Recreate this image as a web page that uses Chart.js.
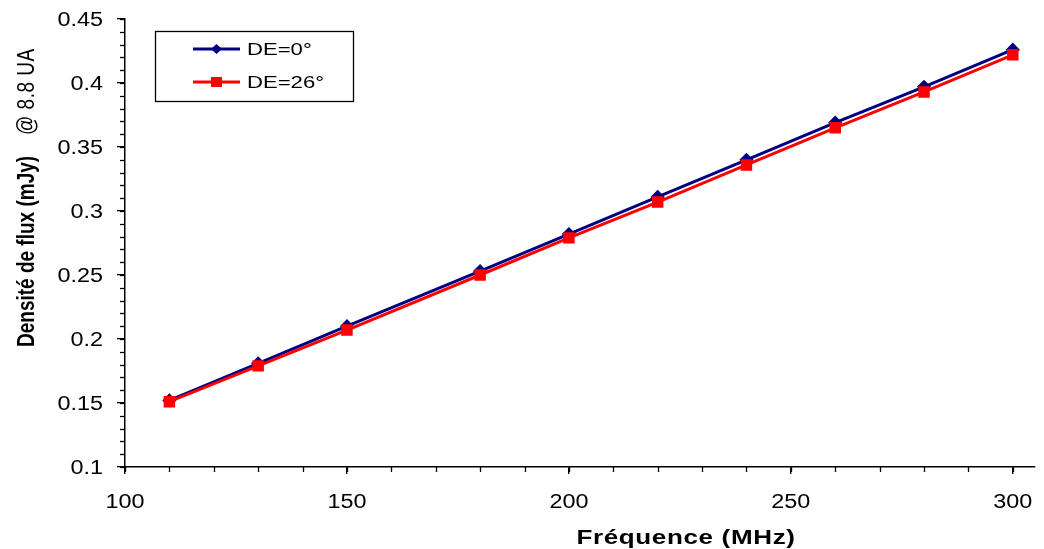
<!DOCTYPE html>
<html>
<head>
<meta charset="utf-8">
<script src="https://cdn.jsdelivr.net/npm/chart.js@4.4.1/dist/chart.umd.min.js"></script>
<style>
  html, body { margin: 0; padding: 0; background: #fff; }
  #wrap { width: 1044px; height: 549px; }
</style>
</head>
<body>
<div id="wrap"><canvas id="fluxChart" width="1044" height="549"></canvas></div>
<script>
// donnees
const frequences = [110, 130, 150, 180, 200, 220, 240, 260, 280, 300];
const fluxDE0 = [0.152, 0.181, 0.210, 0.253, 0.282, 0.311, 0.340, 0.369, 0.397, 0.426];
const fluxDE26 = [0.151, 0.179, 0.207, 0.250, 0.279, 0.307, 0.336, 0.365, 0.393, 0.422];
const labelsSeries = ["DE=0°", "DE=26°"];
const xGraduations = [100, 150, 200, 250, 300];
const yGraduations = [0.1, 0.15, 0.2, 0.25, 0.3, 0.35, 0.4, 0.45];

const xTitre = "Fréquence (MHz)";
const yTitre = "Densité de flux (mJy)";
const yTitreSuite = "@ 8.8 UA";

const police = "'Liberation Sans', Arial, sans-serif";
// le graphique d'origine est etire horizontalement
const etirement = 1.17;

// texte etire horizontalement
function texteEtire(ctx, txt, x, y, align, sx) {
    ctx.save();
    ctx.translate(x, y);
    ctx.scale(sx, 1);
    ctx.textAlign = align;
    ctx.fillText(txt, 0, 0);
    ctx.restore();
}

// petites graduations + libelles + titres + legende encadree
const decorPlugin = {
    id: "decor",
    afterDraw(chart) {
        const ctx = chart.ctx;
        const xs = chart.scales.x;
        const ys = chart.scales.y;
        const area = chart.chartArea;

        ctx.save();
        ctx.strokeStyle = "#000";
        ctx.lineWidth = 1.3;
        // graduations mineures
        for (let v = 0.1; v <= 0.4501; v += 0.01) {
            const y = Math.round(ys.getPixelForValue(v)) + 0.5;
            ctx.beginPath();
            ctx.moveTo(area.left - 5, y);
            ctx.lineTo(area.left, y);
            ctx.stroke();
        }
        for (let v = 100; v <= 300; v += 10) {
            const x = Math.round(xs.getPixelForValue(v)) + 0.5;
            ctx.beginPath();
            ctx.moveTo(x, area.bottom);
            ctx.lineTo(x, area.bottom + 5);
            ctx.stroke();
        }

        // libelles des graduations
        ctx.fillStyle = "#000";
        ctx.font = "20px " + police;
        ctx.textBaseline = "middle";
        yGraduations.forEach(v => {
            texteEtire(ctx, String(v), area.left - 22, ys.getPixelForValue(v) + 1, "right", etirement);
        });
        xGraduations.forEach(v => {
            texteEtire(ctx, String(v), xs.getPixelForValue(v), area.bottom + 35, "center", etirement);
        });

        // titre axe x
        ctx.font = "bold 20px " + police;
        ctx.letterSpacing = "0.5px";
        texteEtire(ctx, xTitre, 686, 538, "center", 1.3);
        ctx.letterSpacing = "0px";

        // titre axe y (vertical)
        ctx.translate(27, 0);
        ctx.rotate(-Math.PI / 2);
        ctx.scale(1, 1.3);
        ctx.textAlign = "left";
        ctx.font = "bold 19px " + police;
        ctx.fillText(yTitre, -347, 0, 194);
        ctx.font = "19px " + police;
        ctx.letterSpacing = "0.5px";
        ctx.fillText(yTitreSuite, -135, 0, 105);
        ctx.restore();

        // legende
        ctx.save();
        ctx.strokeStyle = "#000";
        ctx.lineWidth = 1.3;
        ctx.strokeRect(155.5, 31.5, 198, 70);
        const lignes = [49, 82];
        chart.data.datasets.forEach((ds, i) => {
            const y = lignes[i];
            ctx.strokeStyle = ds.borderColor;
            ctx.lineWidth = 3;
            ctx.beginPath();
            ctx.moveTo(193, y);
            ctx.lineTo(240, y);
            ctx.stroke();
            ctx.fillStyle = ds.backgroundColor;
            if (ds.pointStyle === "rectRot") {
                ctx.beginPath();
                ctx.moveTo(216.5, y - 5);
                ctx.lineTo(222, y);
                ctx.lineTo(216.5, y + 5);
                ctx.lineTo(211, y);
                ctx.closePath();
                ctx.fill();
            } else {
                ctx.fillRect(211, y - 5, 11, 10);
            }
            ctx.fillStyle = "#000";
            ctx.font = "17px " + police;
            ctx.textBaseline = "middle";
            texteEtire(ctx, ds.label, 247, y + 1, "left", 1.3);
        });
        ctx.restore();
    }
};

const ctx = document.getElementById("fluxChart").getContext("2d");
new Chart(ctx, {
    type: "line",
    data: {
        datasets: [
            {
                label: labelsSeries[0],
                data: frequences.map((f, i) => ({ x: f, y: fluxDE0[i] })),
                borderColor: "#000080",
                backgroundColor: "#000080",
                borderWidth: 3,
                pointStyle: "rectRot",
                pointRadius: 5,
                order: 1,
                tension: 0
            },
            {
                label: labelsSeries[1],
                data: frequences.map((f, i) => ({ x: f, y: fluxDE26[i] })),
                borderColor: "#ff0000",
                backgroundColor: "#ff0000",
                borderWidth: 3,
                pointStyle: "rect",
                pointRadius: 6,
                order: 0,
                tension: 0
            }
        ]
    },
    options: {
        responsive: false,
        animation: false,
        layout: { padding: { top: 19, right: 3, left: 0, bottom: 0 } },
        plugins: {
            legend: { display: false },
            tooltip: { enabled: false }
        },
        scales: {
            x: {
                type: "linear",
                min: 100,
                max: 305,
                afterFit: (s) => { s.height = 82; },
                afterBuildTicks: (s) => {
                    s.ticks = xGraduations.map(v => ({ value: v }));
                },
                border: { display: true, color: "#000", width: 1.5 },
                grid: { drawOnChartArea: false, drawTicks: true, tickLength: 7, color: "#000", lineWidth: 1.3 },
                ticks: { display: false }
            },
            y: {
                type: "linear",
                min: 0.1,
                max: 0.45,
                afterFit: (s) => { s.width = 125; },
                afterBuildTicks: (s) => {
                    s.ticks = yGraduations.map(v => ({ value: v }));
                },
                border: { display: true, color: "#000", width: 1.5 },
                grid: { drawOnChartArea: false, drawTicks: true, tickLength: 8, color: "#000", lineWidth: 1.3 },
                ticks: { display: false }
            }
        }
    },
    plugins: [decorPlugin]
});
</script>
</body>
</html>
